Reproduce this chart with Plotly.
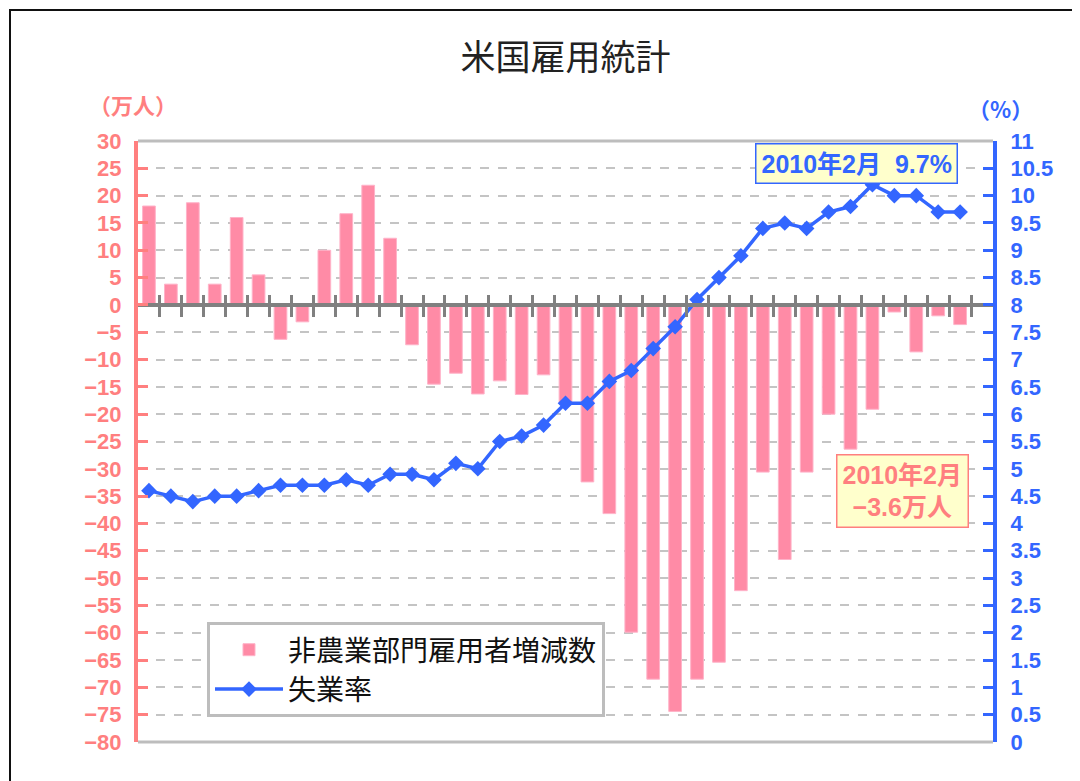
import plotly.graph_objects as go

# ---- data (Jan 2007 .. Feb 2010) ----
months = [f"{y}年{m}月" for y in (2007, 2008, 2009) for m in range(1, 13)] + ["2010年1月", "2010年2月"]

payroll_change = [18.1, 3.8, 18.7, 3.8, 16.0, 5.5, -6.3, -3.1, 10.0, 16.7,
                  21.9, 12.2, -7.3, -14.5, -12.5, -16.3, -13.9, -16.4, -12.8, -18.0,
                  -32.4, -38.2, -59.9, -68.5, -74.4, -68.5, -65.4, -52.3, -30.6, -46.6,
                  -30.6, -20.0, -26.4, -19.1, -1.3, -8.6, -2.0, -3.6]

unemployment = [4.6, 4.5, 4.4, 4.5, 4.5, 4.6, 4.7, 4.7, 4.7, 4.8,
                4.7, 4.9, 4.9, 4.8, 5.1, 5.0, 5.5, 5.6, 5.8, 6.2,
                6.2, 6.6, 6.8, 7.2, 7.6, 8.1, 8.5, 8.9, 9.4, 9.5,
                9.4, 9.7, 9.8, 10.2, 10.0, 10.0, 9.7, 9.7]

left_ticks = list(range(-80, 31, 5))
right_ticks = [i * 0.5 for i in range(0, 23)]

title_text = "米国雇用統計"
bar_name = "非農業部門雇用者増減数"
line_name = "失業率"
note_rate = "2010年2月  9.7%"
note_jobs = "2010年2月<br>−3.6万人"

SALMON = "#FF7F7F"
BLUE = "#3366FF"
BAR = "#FF8BA6"
GRID = "#C4C4C4"
AXGRAY = "#808080"

# page body has an 8px margin; the figure is sized so the plot area lands on the reference pixels
OFF = 8
W, H = 1080 - OFF, 781 - OFF
L, T, R, B = 138 - OFF, 141 - OFF, 87, 39
PW, PH = W - L - R, H - T - B


def px(xpix):
    return (xpix - 138) / PW


def py(ypix):
    return (742 - ypix) / PH


n = len(months)
xpos = list(range(n))
boundaries = [i + 0.5 for i in range(n)]

fig = go.Figure()
fig.add_trace(go.Bar(
    x=xpos, y=payroll_change, name=bar_name, customdata=months,
    hovertemplate="%{customdata}: %{y}万人<extra></extra>",
    marker=dict(color=BAR, line=dict(color="#FFB3C9", width=1)),
    width=0.58, xaxis="x", yaxis="y",
))
fig.add_trace(go.Scatter(
    x=xpos, y=unemployment, name=line_name, customdata=months,
    hovertemplate="%{customdata}: %{y}%<extra></extra>",
    mode="lines+markers",
    line=dict(color=BLUE, width=3.5),
    marker=dict(symbol="diamond", size=12, color=BLUE),
    cliponaxis=False, xaxis="x2", yaxis="y2",
))

tickfont_l = dict(family="Liberation Sans, DejaVu Sans", size=22, color=SALMON, weight="bold")
tickfont_r = dict(family="Liberation Sans, DejaVu Sans", size=22, color=BLUE, weight="bold")
zero_pos = (0 - left_ticks[0]) / (left_ticks[-1] - left_ticks[0])

fig.update_layout(
    width=W, height=H,
    margin=dict(l=L, r=R, t=T, b=B),
    paper_bgcolor="white", plot_bgcolor="white",
    showlegend=True,
    title=dict(text=title_text, x=0.5, xref="paper", xanchor="center",
               y=1 - (58 - OFF) / H, yref="container", yanchor="middle",
               font=dict(family="Noto Sans CJK JP", size=35, color="#222222")),
    xaxis=dict(range=[-0.5, n + 0.5], anchor="free", position=zero_pos,
               showline=True, linecolor=AXGRAY, linewidth=4,
               tickmode="array", tickvals=boundaries, showticklabels=False,
               ticks="outside", ticklen=10, tickwidth=3, tickcolor=AXGRAY,
               showgrid=False, zeroline=False, fixedrange=True),
    xaxis2=dict(range=[-0.5, n + 0.5], overlaying="x", side="top",
                anchor="free", position=zero_pos,
                showline=False,
                tickmode="array", tickvals=boundaries, showticklabels=False,
                ticks="outside", ticklen=10, tickwidth=3, tickcolor=AXGRAY,
                showgrid=False, zeroline=False, fixedrange=True),
    yaxis=dict(range=[left_ticks[0], left_ticks[-1]], tickmode="array", tickvals=left_ticks,
               anchor="x", side="left",
               showline=True, linecolor=SALMON, linewidth=4,
               ticks="inside", ticklen=10, tickwidth=2.5, tickcolor=SALMON,
               ticklabelstandoff=8, tickfont=tickfont_l,
               showgrid=True, gridcolor=GRID, gridwidth=1.5, griddash="dash",
               zeroline=False, fixedrange=True),
    yaxis2=dict(range=[right_ticks[0], right_ticks[-1]], tickmode="array", tickvals=right_ticks,
                overlaying="y", anchor="x2", side="right",
                showline=True, linecolor=BLUE, linewidth=4,
                ticks="inside", ticklen=10, tickwidth=2.5, tickcolor=BLUE,
                ticklabelstandoff=9, tickfont=tickfont_r,
                showgrid=False, zeroline=False, fixedrange=True),
    legend=dict(x=px(207), y=py(622), xanchor="left", yanchor="top",
                bgcolor="white", bordercolor="#BDBDBD", borderwidth=3,
                font=dict(family="Noto Sans CJK JP", size=28, color="#111111"),
                itemwidth=68, traceorder="normal"),
    shapes=[
        dict(type="line", xref="paper", yref="paper", x0=0, x1=1, y0=1, y1=1,
             line=dict(color="#BDBDBD", width=3), layer="below"),
        dict(type="line", xref="paper", yref="paper", x0=0, x1=1, y0=0, y1=0,
             line=dict(color="#BDBDBD", width=3), layer="below"),
        dict(type="rect", xref="paper", yref="paper",
             x0=px(10), x1=px(1077), y0=py(800), y1=py(10),
             line=dict(color="#111111", width=2), fillcolor="rgba(0,0,0,0)", layer="below"),
    ],
    annotations=[
        dict(text="（万人）", xref="paper", yref="paper", x=px(133), y=py(104),
             showarrow=False, xanchor="center", yanchor="middle",
             font=dict(family="Noto Sans CJK JP", size=22, color=SALMON, weight="bold")),
        dict(text="（%）", xref="paper", yref="paper", x=px(1000), y=py(108),
             showarrow=False, xanchor="center", yanchor="middle",
             font=dict(family="Noto Sans CJK JP", size=22, color=BLUE, weight="bold")),
        dict(text=note_rate, xref="paper", yref="paper", x=px(856), y=py(164),
             showarrow=False, xanchor="center", yanchor="middle",
             bgcolor="#FFFFCC", bordercolor=BLUE, borderwidth=1.5, borderpad=5,
             font=dict(family="Liberation Sans, Noto Sans CJK JP", size=25, color=BLUE, weight="bold")),
        dict(text=note_jobs, xref="paper", yref="paper", x=px(902), y=py(491),
             showarrow=False, xanchor="center", yanchor="middle", align="center",
             bgcolor="#FFFFCC", bordercolor=SALMON, borderwidth=1.5, borderpad=5,
             font=dict(family="Liberation Sans, Noto Sans CJK JP", size=25, color=SALMON, weight="bold")),
    ],
)

fig.write_html("out.html")
